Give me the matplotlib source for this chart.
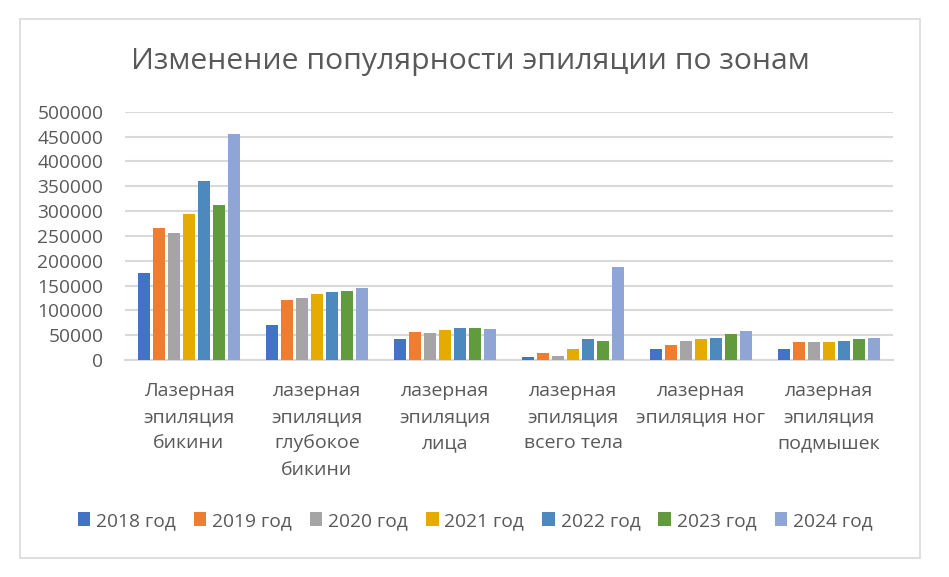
import matplotlib

matplotlib.use("Agg")
import matplotlib.pyplot as plt
from matplotlib.patches import Rectangle
import numpy as np

plt.rcParams["font.family"] = ["Open Sans", "DejaVu Sans"]

TITLE = "Изменение популярности эпиляции по зонам"

categories = [
    "Лазерная\nэпиляция\nбикини",
    "лазерная\nэпиляция\nглубокое\nбикини",
    "лазерная\nэпиляция\nлица",
    "лазерная\nэпиляция\nвсего тела",
    "лазерная\nэпиляция ног",
    "лазерная\nэпиляция\nподмышек",
]

years = ["2018 год", "2019 год", "2020 год", "2021 год", "2022 год", "2023 год", "2024 год"]

# values per year, one entry per category
y2018 = [176000, 71000, 43000, 6700, 22800, 22800]
y2019 = [266000, 121000, 57000, 14700, 30800, 36900]
y2020 = [256000, 125000, 55000, 8700, 38900, 36900]
y2021 = [294000, 133000, 61000, 22800, 43000, 36900]
y2022 = [360500, 137000, 65000, 43000, 45000, 38900]
y2023 = [312000, 139000, 65000, 39000, 53000, 43000]
y2024 = [455000, 145000, 63000, 187600, 59000, 45000]

colors = ["#4472C4", "#ED7D31", "#A5A5A5", "#E5AB00", "#4E89BE", "#629B3E", "#8FA5D5"]

series = [y2018, y2019, y2020, y2021, y2022, y2023, y2024]

W, H = 949, 577
fig = plt.figure(figsize=(W / 100, H / 100), dpi=100)

# outer chart border
fig.patches.append(
    Rectangle((20 / W, 1 - 558 / H), 900 / W, 539 / H, transform=fig.transFigure,
              fill=False, edgecolor="#d9d9d9", linewidth=1.2)
)

ax = fig.add_axes([125 / W, 1 - 360 / H, 768 / W, 248.3 / H])

x = np.arange(len(categories))
pitch = 0.117
bw = 0.094
for i, (vals, col, lab) in enumerate(zip(series, colors, years)):
    ax.bar(x + (i - 3) * pitch, vals, width=bw, color=col, label=lab, zorder=3)

ax.set_xlim(-0.5, len(categories) - 0.5)
ax.set_ylim(0, 500000)
ax.set_yticks(np.arange(0, 500001, 50000))
ax.set_yticklabels([str(v) for v in range(0, 500001, 50000)])
ax.grid(axis="y", color="#d9d9d9", linewidth=1.5, zorder=0)
for s in ["top", "right", "left"]:
    ax.spines[s].set_visible(False)
ax.spines["bottom"].set_color("#d9d9d9")
ax.spines["bottom"].set_linewidth(1.5)
ax.tick_params(axis="y", length=0, pad=15.5, labelsize=13.8, labelcolor="#595959")
ax.tick_params(axis="x", length=0, pad=15.5, labelsize=14, labelcolor="#595959")
ax.set_xticks(x)
ax.set_xticklabels(categories, linespacing=1.6)

fig.text(470 / W, 1 - 62 / H, TITLE, ha="center", va="center", fontsize=21.7, color="#595959")

fig.legend(loc="center", bbox_to_anchor=(475 / W, 1 - 521 / H), ncol=7, frameon=False,
           fontsize=13.8, labelcolor="#595959", handlelength=0.65, handleheight=0.75,
           handletextpad=0.3, columnspacing=0.95)

fig.savefig("out.png", dpi=100)
